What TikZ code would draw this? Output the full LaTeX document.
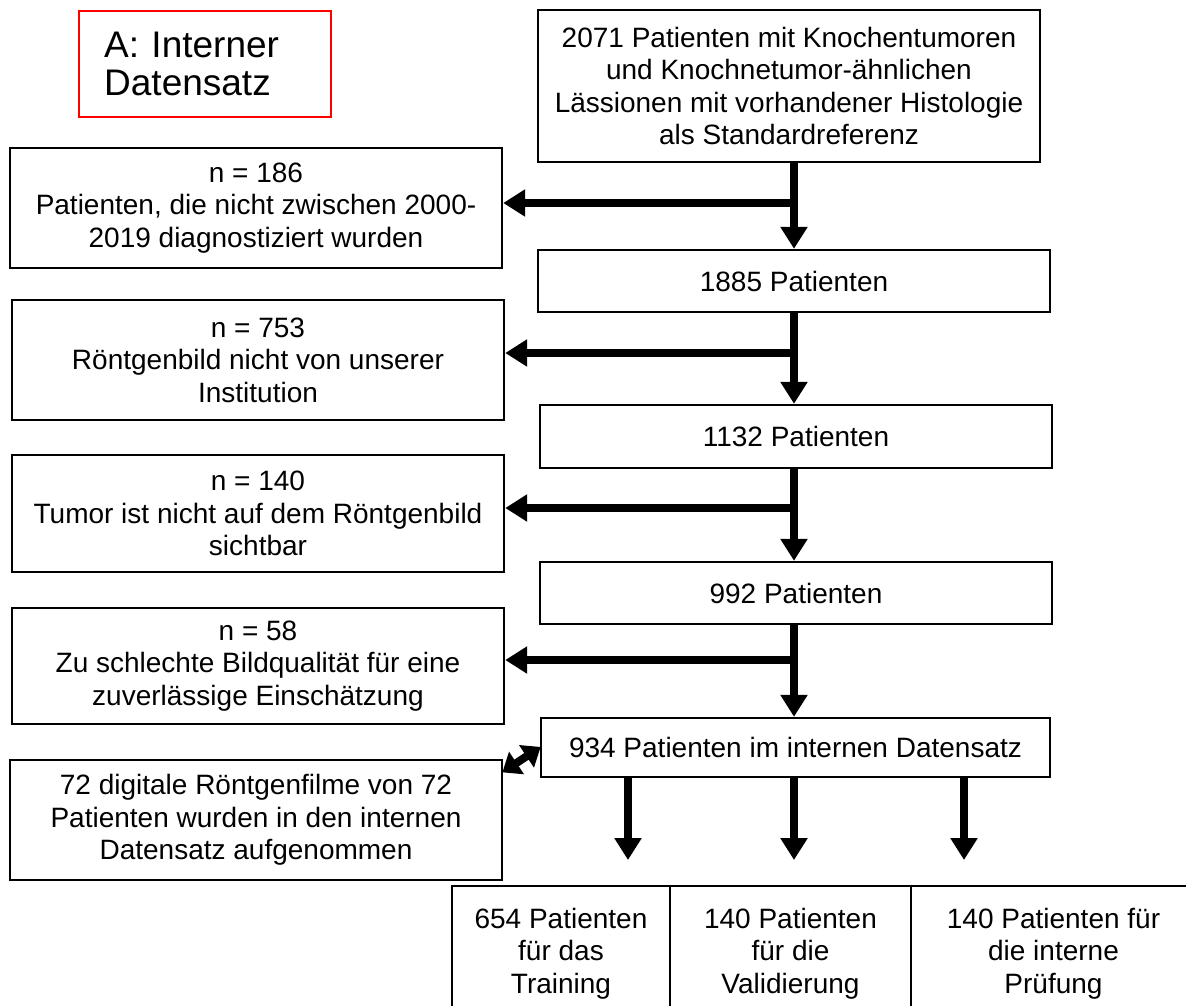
\documentclass[tikz,border=0pt]{standalone}
\usepackage{fontspec}
\setmainfont{Liberation Sans}
\usetikzlibrary{arrows.meta}
\begin{document}
\begin{tikzpicture}[x=1pt,y=-1pt,
  box/.style={draw=black, line width=2.4pt, align=center, inner sep=0pt,
    font=\fontsize{28}{32.5}\selectfont},
  lbox/.style={box, minimum width=492pt},
  rbox/.style={box, minimum width=512pt},
  bbox/.style={box, minimum height=135pt},
  arr/.style={line width=8pt, -{Triangle[length=22pt,width=26pt]}},
  dbl/.style={line width=8pt, {Triangle[length=17pt,width=26pt]}-{Triangle[length=17pt,width=26pt]}, shorten <=-1pt, shorten >=-1pt}
]
\clip (0,0) rectangle (1186,1005);
\fill[white] (0,0) rectangle (1186,1005);

% title box
\node[draw=red, line width=2.4pt, anchor=north west, minimum width=252pt, minimum height=106pt,
  text width=202pt, inner xsep=25pt, inner ysep=0pt, align=left,
  font=\fontsize{37}{38}\selectfont] (title) at (78,10) {A: Interner\\Datensatz};

% right column
\node[box, minimum width=502pt, minimum height=152pt] (top) at (789,86)
  {2071 Patienten mit Knochentumoren\\und Knochnetumor-ähnlichen\\Lässionen mit vorhandener Histologie\\als Standardreferenz};
\node[rbox, minimum height=62pt] (r1885) at (794,281) {1885 Patienten};
\node[rbox, minimum height=63pt] (r1132) at (796,436.5) {1132 Patienten};
\node[rbox, minimum height=62pt] (r992) at (796,593) {992 Patienten};
\node[box, minimum width=509pt, minimum height=59pt] (r934) at (795.5,747.5) {934 Patienten im internen Datensatz};

% left column
\node[lbox, minimum height=120pt] (l186) at (256,208) {n = 186\\Patienten, die nicht zwischen 2000-\\2019 diagnostiziert wurden};
\node[lbox, minimum height=120pt] (l753) at (258,360) {n = 753\\Röntgenbild nicht von unserer\\Institution};
\node[lbox, minimum height=117pt] (l140) at (258,513.5) {n = 140\\Tumor ist nicht auf dem Röntgenbild\\sichtbar};
\node[lbox, minimum height=116pt] (l58) at (258,666) {n = 58\\Zu schlechte Bildqualität für eine\\zuverlässige Einschätzung};
\node[lbox, minimum height=120pt] (l72) at (256,820) {72 digitale Röntgenfilme von 72\\Patienten wurden in den internen\\Datensatz aufgenommen};

% bottom row
\node[bbox, minimum width=218pt] (b1) at (561,953.5) {654 Patienten\\für das\\Training};
\node[bbox, minimum width=241pt] (b2) at (790.5,953.5) {140 Patienten\\für die\\Validierung};
\node[bbox, minimum width=285pt] (b3) at (1053.5,953.5) {140 Patienten für\\die interne\\Prüfung};

% spine junctions
\coordinate (j1) at (794,203);
\coordinate (j2) at (794,353);
\coordinate (j3) at (794,508);
\coordinate (j4) at (794,660);

\draw[arr] (top.south -| j1) -- (r1885.north -| j1);
\draw[arr] (j1) -- (j1 -| l186.east);
\draw[arr] (r1885.south -| j2) -- (r1132.north -| j2);
\draw[arr] (j2) -- (j2 -| l753.east);
\draw[arr] (r1132.south -| j3) -- (r992.north -| j3);
\draw[arr] (j3) -- (j3 -| l140.east);
\draw[arr] (r992.south -| j4) -- (r934.north -| j4);
\draw[arr] (j4) -- (j4 -| l58.east);

\draw[dbl] ([yshift=-13pt]l72.north east) -- (r934.west);

\coordinate (c1) at (628,777);
\coordinate (c2) at (794,777);
\coordinate (c3) at (964,777);
\draw[arr] (r934.south -| c1) -- (628,860);
\draw[arr] (r934.south -| c2) -- (794,860);
\draw[arr] (r934.south -| c3) -- (964,860);
\end{tikzpicture}
\end{document}
